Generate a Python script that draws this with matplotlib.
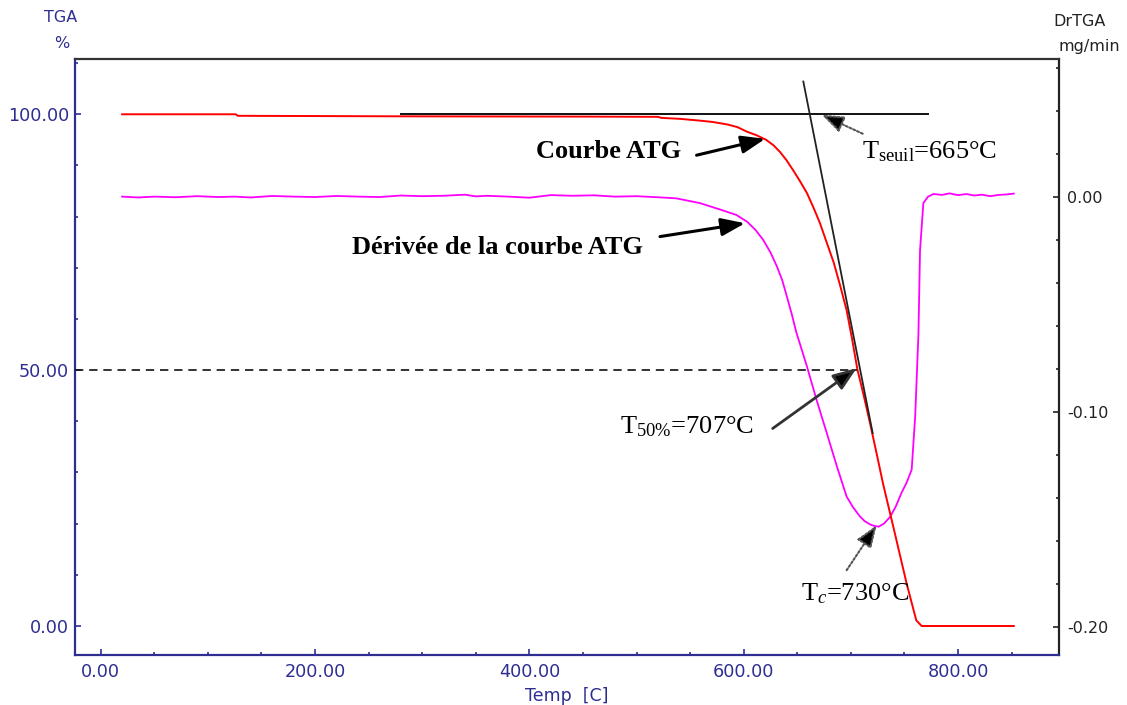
import matplotlib
matplotlib.use("Agg")
import matplotlib.pyplot as plt
import numpy as np
from matplotlib.ticker import MultipleLocator, FixedLocator

# ---------------- data ----------------
tga_T = [20, 126, 128, 280, 450, 520, 523, 541, 557, 571, 585, 594, 603, 612, 621,
         628, 634, 640, 646, 652, 659, 665, 671, 677, 684, 690, 696, 701, 706,
         712, 718, 724, 730, 740, 752, 761, 766, 800, 852]
tga_V = [100.0, 100.0, 99.7, 99.6, 99.55, 99.5, 99.3, 99.1, 98.8, 98.5, 98.0, 97.5, 96.6, 95.9, 95.0,
         93.9, 92.6, 91.0, 89.1, 87.1, 84.6, 81.8, 78.8, 75.2, 71.0, 66.5, 61.7, 56.2, 50.2,
         45.0, 39.5, 33.7, 27.8, 19.0, 8.3, 1.1, 0.0, 0.0, 0.0]

dtg_T = [20, 35, 50, 70, 90, 110, 125, 140, 160, 180, 200, 220, 240, 260, 280, 300,
         320, 340, 350, 360, 380, 400, 420, 440, 460, 480, 500, 520, 537,
         559, 578, 593, 603, 611, 618, 625, 631, 636, 640, 645, 649, 654, 659, 668, 677.5, 687, 696,
         702, 708.5, 713, 718, 722, 726, 731, 736.5, 742, 747, 752, 756.7, 760, 763, 764.5, 767.6, 772, 777,
         785, 792, 800, 808, 815, 822, 830, 838, 845, 852]
dtg_V = [0.0, -0.0004, 0.0, -0.0003, 0.0002, -0.0002, 0.0, -0.0004, 0.0003, 0.0, -0.0002, 0.0003, 0.0, -0.0002, 0.0005, 0.0002,
         0.0004, 0.0009, 0.0001, 0.0004, 0.0, -0.0005, 0.0007, 0.0004, 0.0006, 0.0, 0.0002, -0.0003, -0.0008,
         -0.003, -0.006, -0.0085, -0.0116, -0.0155, -0.020, -0.026, -0.0325, -0.039, -0.046, -0.055, -0.0630, -0.071, -0.079,
         -0.0946, -0.110, -0.1256, -0.1395,
         -0.1445, -0.1488, -0.151, -0.1525, -0.1532, -0.1535, -0.152, -0.149, -0.144, -0.138, -0.133, -0.127,
         -0.102, -0.064, -0.025, -0.003, 0.0, 0.0012,
         0.0008, 0.0015, 0.0007, 0.0012, 0.0005, 0.0009, 0.0002, 0.0008, 0.0010, 0.0014]

# construction lines (value coordinates)
onset_T = [280, 772]
onset_V = [100, 100]
tangent_T = [655.6, 720.3]
tangent_V = [106.4, 37.7]
half_T_end = 705.4
half_V = 50

x_ticks = [0, 200, 400, 600, 800]
x_ticklabels = ["0.00", "200.00", "400.00", "600.00", "800.00"]
yl_ticks = [0, 50, 100]
yl_ticklabels = ["0.00", "50.00", "100.00"]
yr_ticks = [-0.2, -0.1, 0.0]
yr_ticklabels = ["-0.20", "-0.10", "0.00"]

NAVY = "#2e2e92"

fig = plt.figure(figsize=(11.27, 7.05), dpi=100)
ax = fig.add_axes([0.0663, 0.0709, 0.8734, 0.8454])
ax2 = ax.twinx()

ax.set_xlim(-24.2, 894.2)
ax.set_ylim(-5.67, 110.8)
ax2.set_ylim(-0.2132, 0.064)

# curves
ax2.plot(dtg_T, dtg_V, color="#ff00ff", lw=1.3, zorder=3)
ax.plot(tga_T, tga_V, color="#ff0000", lw=1.4, zorder=4)
ax.set_zorder(ax2.get_zorder() + 1)
ax.patch.set_visible(False)

ax.plot(onset_T, onset_V, color="#111111", lw=1.4, zorder=5)
ax.plot(tangent_T, tangent_V, color="#222222", lw=1.3, zorder=5)
x0, x1 = ax.get_xlim()
ax.plot([x0, half_T_end], [half_V, half_V], color="#111111", lw=1.2,
        linestyle=(0, (5, 3.5)), zorder=5)

# spines
ax.spines["right"].set_visible(False)
for s in ["left", "bottom", "top"]:
    ax2.spines[s].set_visible(False)
ax.spines["left"].set_color(NAVY)
ax.spines["bottom"].set_color(NAVY)
ax.spines["top"].set_color("#333333")
ax2.spines["right"].set_color("#222222")
for sp in [ax.spines["left"], ax.spines["bottom"], ax.spines["top"], ax2.spines["right"]]:
    sp.set_linewidth(1.6)

# ticks
ax.xaxis.set_major_locator(FixedLocator(x_ticks))
ax.set_xticklabels(x_ticklabels)
ax.xaxis.set_minor_locator(MultipleLocator(50))
ax.yaxis.set_major_locator(FixedLocator(yl_ticks))
ax.set_yticklabels(yl_ticklabels)
ax.yaxis.set_minor_locator(MultipleLocator(10))
ax2.yaxis.set_major_locator(FixedLocator(yr_ticks))
ax2.set_yticklabels(yr_ticklabels)
ax2.yaxis.set_minor_locator(MultipleLocator(0.02))

ax.tick_params(axis="x", which="both", direction="in", colors=NAVY, labelsize=12.7, pad=6)
ax.tick_params(axis="x", which="major", length=4, width=1.2)
ax.tick_params(axis="x", which="minor", length=2.5, width=1.2)
ax.tick_params(axis="x", top=False, which="both")
ax.tick_params(axis="y", which="both", direction="in", colors=NAVY, labelsize=12.7, pad=4)
ax.tick_params(axis="y", which="major", length=4, width=1.2)
ax.tick_params(axis="y", which="minor", length=2.5, width=1.2)
ax2.tick_params(axis="y", which="both", direction="in", colors="#222222", labelsize=11.5, pad=6)
ax2.tick_params(axis="y", which="major", length=4.5, width=1.2)
ax2.tick_params(axis="y", which="minor", length=2.5, width=1.2)

# axis titles
fig.text(61 / 1127, 1 - 18 / 705, "TGA", color=NAVY, fontsize=11.5, ha="center", va="center")
fig.text(62 / 1127, 1 - 43 / 705, "%", color=NAVY, fontsize=11.5, ha="center", va="center")
fig.text(1080 / 1127, 1 - 21 / 705, "DrTGA", color="#222222", fontsize=11.5, ha="center", va="center")
fig.text(1089 / 1127, 1 - 46 / 705, "mg/min", color="#222222", fontsize=11.5, ha="center", va="center")
fig.text(567 / 1127, 1 - 696 / 705, "Temp  [C]", color=NAVY, fontsize=12.5, ha="center", va="center")

# annotations
plt.rcParams["mathtext.fontset"] = "custom"
plt.rcParams["mathtext.rm"] = "Liberation Serif"
plt.rcParams["mathtext.it"] = "Liberation Serif:italic"
serif = "Liberation Serif"
FS = 19
HEAD = "-|>,head_length=0.8,head_width=0.3"
bold_arrow = dict(arrowstyle=HEAD, color="black", lw=2.2,
                  mutation_scale=18, shrinkA=0, shrinkB=0)

ax.text(474.3, 92.7, "Courbe ATG", family=serif, fontweight="bold", fontsize=FS,
        ha="center", va="center", zorder=6)
ax.annotate("", xy=(620, 95.2), xytext=(556, 92.0), arrowprops=bold_arrow, zorder=6)

ax.text(370.2, 73.9, "Dérivée de la courbe ATG", family=serif, fontweight="bold",
        fontsize=FS, ha="center", va="center", zorder=6)
ax.annotate("", xy=(601.2, 78.7), xytext=(521.9, 76.1), arrowprops=bold_arrow, zorder=6)

ax.text(710, 92.7, r"T$_{\mathrm{seuil}}$=665°C", family=serif, fontsize=FS,
        ha="left", va="center", zorder=6)
ax.annotate("", xy=(672.8, 99.9), xytext=(711, 96.2),
            arrowprops=dict(arrowstyle=HEAD, color="#555555",
                            lw=1.5, mutation_scale=17, linestyle=(0, (1, 1)),
                            shrinkA=0, shrinkB=0, fc="black"), zorder=6)

ax.text(485, 38.95, r"T$_{\mathrm{50\%}}$=707°C", family=serif, fontsize=FS,
        ha="left", va="center", zorder=6)
ax.annotate("", xy=(705.4, 50.4), xytext=(627, 38.6),
            arrowprops=dict(arrowstyle=HEAD, color="#333333",
                            lw=2.0, mutation_scale=18, shrinkA=0, shrinkB=0, fc="black"), zorder=6)

ax.text(653, 6.4, r"T$_{c}$=730°C", family=serif, fontsize=FS,
        ha="left", va="center", zorder=6)
ax.annotate("", xy=(724, 19.7), xytext=(696, 10.9),
            arrowprops=dict(arrowstyle=HEAD, color="#555555",
                            lw=1.5, mutation_scale=17, linestyle=(0, (1, 1)),
                            shrinkA=0, shrinkB=0, fc="black"), zorder=6)

fig.savefig("out.png", dpi=100, facecolor="white")
